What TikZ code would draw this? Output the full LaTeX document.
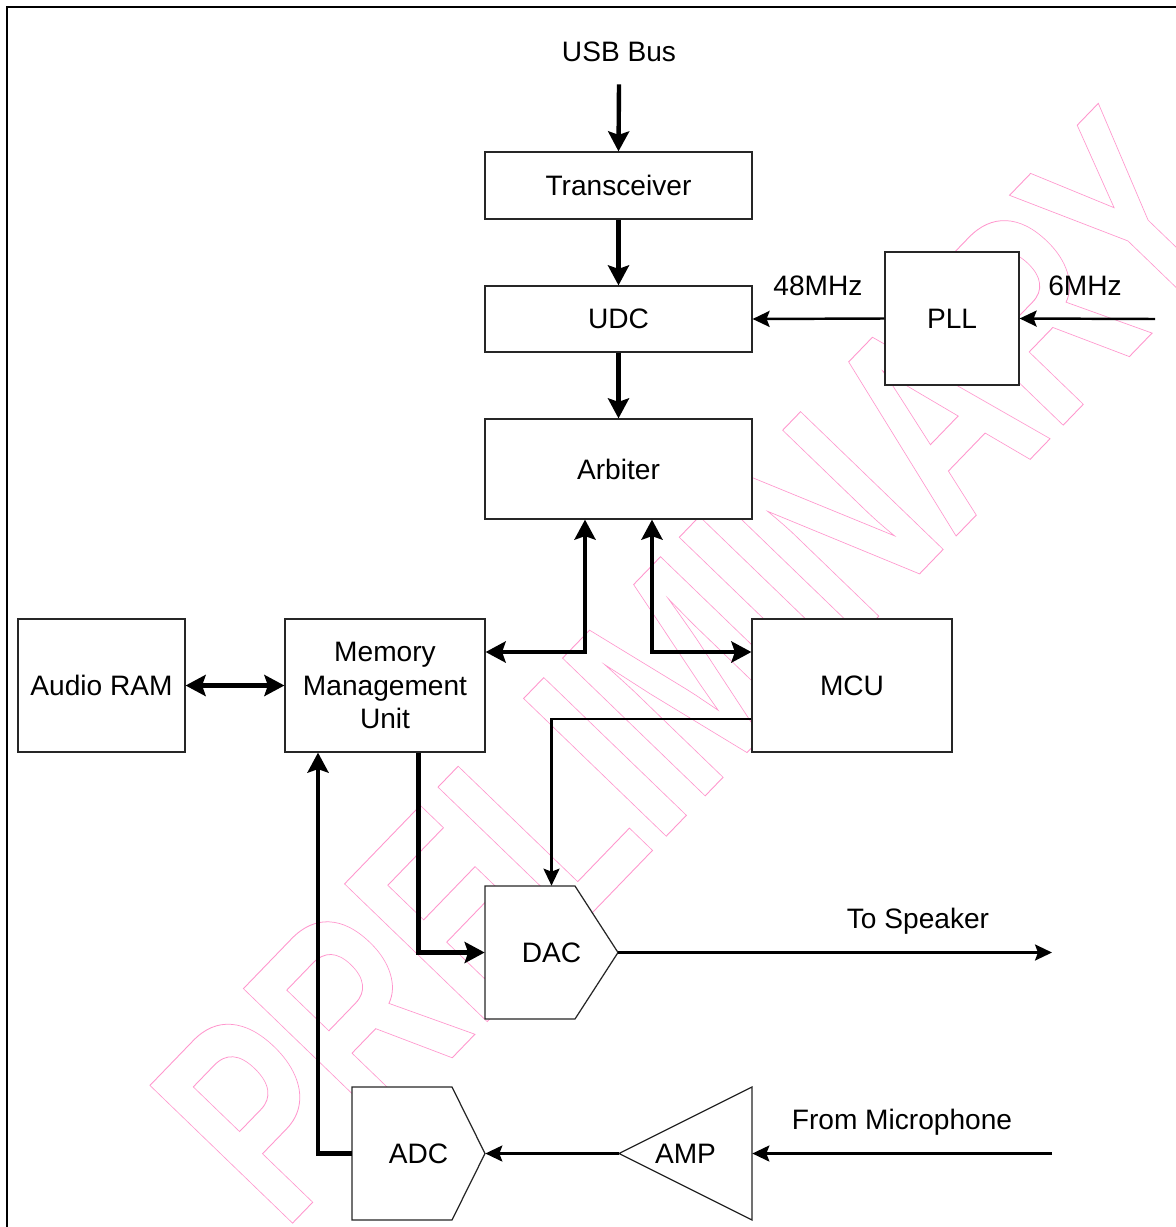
\documentclass[tikz,border=0pt]{standalone}
\usepackage{fontspec}
\setmainfont{Liberation Sans}
\usetikzlibrary{arrows.meta}

\definecolor{wmpink}{RGB}{255,150,205}
\newcommand{\outlined}[1]{\special{pdf:literal direct 1 Tr 0.5 w}#1\special{pdf:literal direct 0 Tr}}

\begin{document}
\begin{tikzpicture}[
    x=0.02cm, y=-0.02cm,
    block/.style={rectangle, draw=black!85, line width=0.7pt, fill=white, inner sep=0pt, font=\fontsize{16}{19}\selectfont},
    outline/.style={draw=black!85, line width=0.7pt, fill=white},
    txt/.style={inner sep=0pt, font=\fontsize{16}{19}\selectfont},
    bus/.style={line width=2.5pt, -{Stealth[length=0.4cm, width=0.42cm, inset=0.07cm]}},
    busboth/.style={line width=2.5pt, {Stealth[length=0.4cm, width=0.42cm, inset=0.07cm]}-{Stealth[length=0.4cm, width=0.42cm, inset=0.07cm]}},
    sig/.style={line width=1.4pt, -{Stealth[length=0.34cm, width=0.32cm, inset=0.06cm]}}
]
\useasboundingbox (0,0) rectangle (1176,1227);

% Watermark
\begin{scope}[shift={(283,1233)}, rotate=46, xscale=0.70, transform shape]
\node[anchor=base west, inner sep=0pt, text=wmpink, font=\bfseries\fontsize{164}{164}\selectfont] (wm) {\outlined{PRELIMINARY}};
\end{scope}

% Frame
\draw[line width=1.6pt] (7,1260) -- (7,7) -- (1200,7);

% Blocks
\node[txt] (usb) at (619,52) {USB Bus};
\node[block, minimum width=5.34cm, minimum height=1.34cm] (trx) at (618.5,185.5) {Transceiver};
\node[block, minimum width=5.34cm, minimum height=1.32cm] (udc) at (618.5,319) {UDC};
\node[block, minimum width=5.34cm, minimum height=2cm] (arb) at (618.5,469) {Arbiter};
\node[block, minimum width=2.68cm, minimum height=2.66cm] (pll) at (952,318.5) {PLL};
\node[block, minimum width=3.34cm, minimum height=2.66cm] (ram) at (101.5,685.5) {Audio RAM};
\node[block, minimum width=4cm, minimum height=2.66cm, align=center] (mmu) at (385,685.5) {Memory\\Management\\Unit};
\node[block, minimum width=4cm, minimum height=2.66cm] (mcu) at (852,685.5) {MCU};

% Converters and amplifier
\draw[outline] (485,886) -- (575,886) -- (618,952.5) -- (575,1019) -- (485,1019) -- cycle;
\node[txt, minimum width=2.66cm, minimum height=2.66cm] (dac) at (551.5,952.5) {DAC};
\draw[outline] (352,1087) -- (452,1087) -- (485,1153.5) -- (452,1220) -- (352,1220) -- cycle;
\node[txt, minimum width=2.66cm, minimum height=2.66cm] (adc) at (418.5,1153.5) {ADC};
\draw[outline] (752,1087) -- (752,1220) -- (619,1153.5) -- cycle;
\node[txt, minimum width=2.66cm, minimum height=2.66cm] (amp) at (685.5,1153.5) {AMP};

% Outside ends
\coordinate (osc) at (1155,319);
\coordinate (spk) at (1052,952.5);
\coordinate (mic) at (1052,1153.5);

% Labels
\node[txt] (f48) at (818,286) {48MHz};
\node[txt] (f6) at (1085,286) {6MHz};
\node[txt] (tospk) at (918,921) {To Speaker};
\node[txt] (frmic) at (902,1122) {From Microphone};

% Data path
\draw[bus] ([yshift=-0.44cm]usb.south) -- (trx.north);
\foreach \a/\b in {trx/udc, udc/arb} {
    \draw[bus] (\a.south) -- (\b.north);
}
\draw[busboth] (ram.east) -- (mmu.west);
\draw[busboth] ([yshift=0.67cm]mmu.east) -| ([xshift=-0.67cm]arb.south);
\draw[busboth] ([xshift=0.67cm]arb.south) |- ([yshift=0.67cm]mcu.west);
\draw[bus] ([xshift=0.67cm]mmu.south) |- (dac.west);
\draw[bus] (adc.west) -| ([xshift=-1.34cm]mmu.south);

% Clock and control
\draw[sig] (pll.west) -- (udc.east);
\draw[sig] (osc) -- (pll.east);
\draw[sig] ([yshift=-0.67cm]mcu.west) -| (dac.north);

% Audio signals
\draw[sig] (dac.east) -- (spk);
\draw[sig] (mic) -- (amp.east);
\draw[sig] (amp.west) -- (adc.east);

\end{tikzpicture}
\end{document}
